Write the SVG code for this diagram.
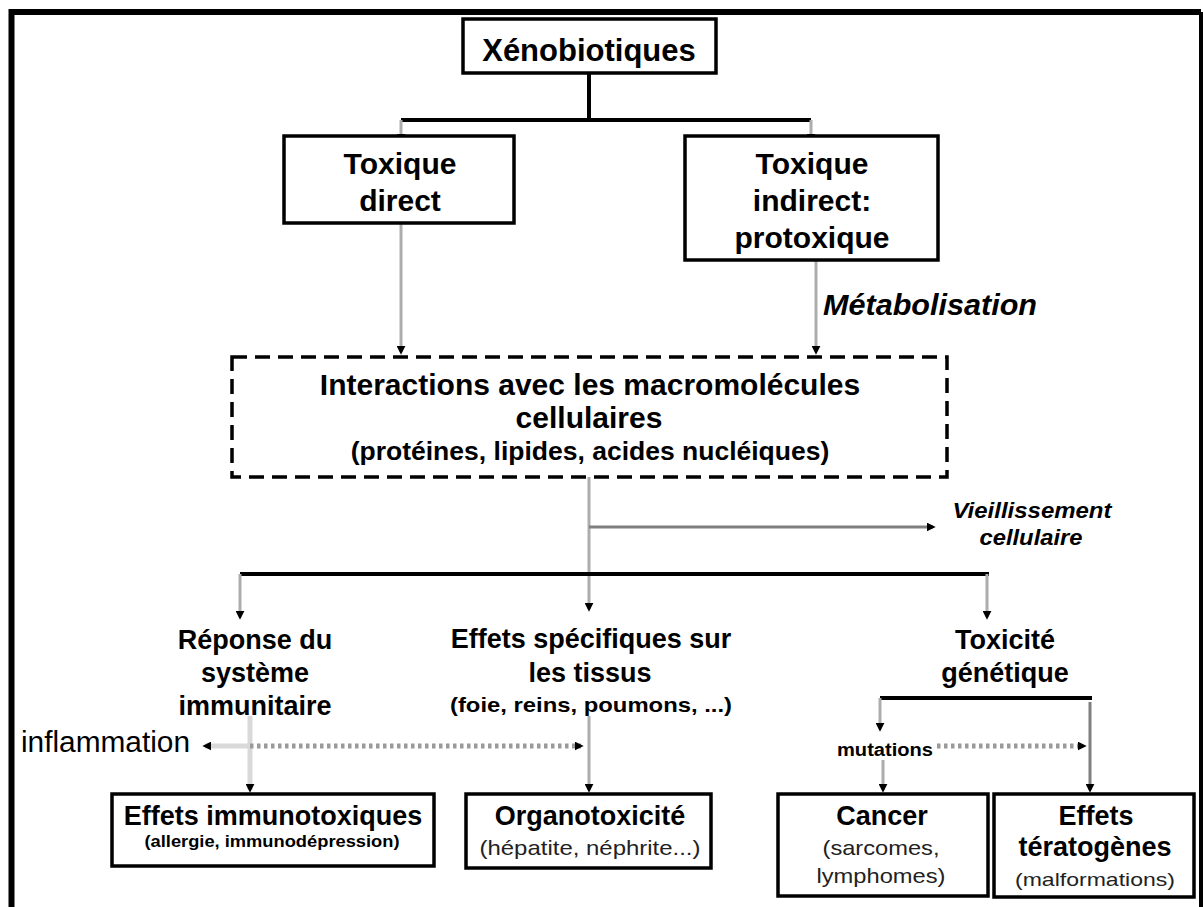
<svg xmlns="http://www.w3.org/2000/svg" width="1203" height="907" viewBox="0 0 1203 907">
<style>
.t{font-family:"Liberation Sans",Arial,sans-serif;font-weight:bold;fill:#000;text-anchor:middle}
.s{font-family:"Liberation Sans",Arial,sans-serif;text-anchor:middle}
.box{fill:#fff;stroke:#000;stroke-width:3.5}
.bar{fill:none;stroke:#000;stroke-width:4}
.c{fill:none;stroke:#adadad;stroke-width:3}
.cd{fill:none;stroke:#7f7f7f;stroke-width:3}
.cl{fill:none;stroke:#d9d9d9;stroke-width:5}
.dot{fill:none;stroke:#9a9a9a;stroke-width:5;stroke-dasharray:3.5 3.5}
</style>
<defs>
<marker id="ah" viewBox="0 0 10 10" refX="7" refY="5" markerWidth="9" markerHeight="9" markerUnits="userSpaceOnUse" orient="auto">
<path d="M0,0 L10,5 L0,10 z" fill="#000"/>
</marker>
</defs>
<rect width="1203" height="907" fill="#fff"/>
<g id="frame">
<path d="M11.5,907 V12 H1201" fill="none" stroke="#000" stroke-width="6"/>
<path d="M1201,12 V907" fill="none" stroke="#000" stroke-width="4"/>
</g>
<g id="connectors">
<path class="bar" d="M589,73 V120 M401,120 H811"/>
<path class="c" d="M401,120 V140" marker-end="url(#ah)"/>
<path class="c" d="M811,120 V140" marker-end="url(#ah)"/>
<path class="c" d="M401,223 V352" marker-end="url(#ah)"/>
<path class="c" d="M816,260 V352" marker-end="url(#ah)"/>
<path class="c" d="M589,477 V609" marker-end="url(#ah)"/>
<path class="cd" d="M589,527 H933" marker-end="url(#ah)"/>
<path class="bar" d="M240,574 H989"/>
<path class="c" d="M240,574 V617" marker-end="url(#ah)"/>
<path class="c" d="M987,574 V617" marker-end="url(#ah)"/>
<path class="cl" d="M250,716 V790" marker-end="url(#ah)"/>
<path class="c" d="M589,716 V790" marker-end="url(#ah)"/>
<path class="cl" d="M250,746 H205" marker-end="url(#ah)"/>
<path class="dot" d="M250,746 H581" marker-end="url(#ah)"/>
<path class="bar" d="M880,698 H1092"/>
<path class="c" d="M880,698 V729" marker-end="url(#ah)"/>
<path class="c" d="M883,760 V790" marker-end="url(#ah)"/>
<path class="cd" d="M1090,702 V790" marker-end="url(#ah)"/>
<path class="dot" d="M937,746 H1084" marker-end="url(#ah)"/>
</g>
<g id="xenobiotiques">
<rect class="box" x="463" y="19" width="253" height="54"/>
<text class="t" x="589" y="61" font-size="31">Xénobiotiques</text>
</g>
<g id="toxique-direct">
<rect class="box" x="284" y="136" width="230" height="87"/>
<text class="t" x="400" y="174" font-size="30">Toxique</text>
<text class="t" x="400" y="211" font-size="30">direct</text>
</g>
<g id="toxique-indirect">
<rect class="box" x="685" y="136" width="253" height="124"/>
<text class="t" x="812" y="174" font-size="30">Toxique</text>
<text class="t" x="812" y="211" font-size="30">indirect:</text>
<text class="t" x="812" y="248" font-size="30">protoxique</text>
</g>
<g id="metabolisation">
<text x="823" y="315" font-family="Liberation Sans, Arial, sans-serif" font-weight="bold" font-style="italic" font-size="29" textLength="214" lengthAdjust="spacingAndGlyphs">Métabolisation</text>
</g>
<g id="interactions">
<rect x="232" y="357" width="715" height="120" fill="#fff" stroke="#000" stroke-width="3.5" stroke-dasharray="15 8"/>
<text class="t" x="590" y="395" font-size="30">Interactions avec les macromolécules</text>
<text class="t" x="589" y="428" font-size="30">cellulaires</text>
<text class="t" x="590" y="460" font-size="26.5">(protéines, lipides, acides nucléiques)</text>
</g>
<g id="vieillissement">
<text class="t" x="1032" y="518" font-size="22" font-style="italic" fill="#2a2a40" textLength="159" lengthAdjust="spacingAndGlyphs">Vieillissement</text>
<text class="t" x="1031" y="545" font-size="22" font-style="italic" fill="#2a2a40" textLength="103" lengthAdjust="spacingAndGlyphs">cellulaire</text>
</g>
<g id="reponse-immunitaire">
<text class="t" x="255" y="649" font-size="27">Réponse du</text>
<text class="t" x="255" y="682" font-size="27">système</text>
<text class="t" x="255" y="715" font-size="27">immunitaire</text>
</g>
<g id="effets-specifiques">
<text class="t" x="591" y="648" font-size="27">Effets spécifiques sur</text>
<text class="t" x="590" y="682" font-size="27">les tissus</text>
<text class="t" x="591" y="712" font-size="21" textLength="282" lengthAdjust="spacingAndGlyphs">(foie, reins, poumons, ...)</text>
</g>
<g id="toxicite-genetique">
<text class="t" x="1005" y="649" font-size="27">Toxicité</text>
<text class="t" x="1005" y="682" font-size="27">génétique</text>
</g>
<g id="inflammation">
<text x="21" y="752" font-family="Liberation Sans, Arial, sans-serif" font-size="29" textLength="169" lengthAdjust="spacingAndGlyphs">inflammation</text>
</g>
<g id="mutations">
<text class="t" x="885" y="756" font-size="18" fill="#333" textLength="96" lengthAdjust="spacingAndGlyphs">mutations</text>
</g>
<g id="effets-immunotoxiques">
<rect class="box" x="112" y="794" width="322" height="72"/>
<text class="t" x="273" y="825" font-size="27">Effets immunotoxiques</text>
<text class="t" x="272" y="847" font-size="16" fill="#6a6a6a" textLength="255" lengthAdjust="spacingAndGlyphs">(allergie, immunodépression)</text>
</g>
<g id="organotoxicite">
<rect class="box" x="466" y="794" width="245" height="74"/>
<text class="t" x="590" y="825" font-size="27">Organotoxicité</text>
<text class="s" x="590" y="855" font-size="21" fill="#222" textLength="221" lengthAdjust="spacingAndGlyphs">(hépatite, néphrite...)</text>
</g>
<g id="cancer">
<rect class="box" x="778" y="794" width="210" height="102"/>
<text class="t" x="882" y="825" font-size="27">Cancer</text>
<text class="s" x="881" y="855" font-size="21" fill="#222" textLength="117" lengthAdjust="spacingAndGlyphs">(sarcomes,</text>
<text class="s" x="881" y="883" font-size="21" fill="#222" textLength="129" lengthAdjust="spacingAndGlyphs">lymphomes)</text>
</g>
<g id="effets-teratogenes">
<rect class="box" x="994" y="794" width="200" height="103"/>
<text class="t" x="1096" y="825" font-size="27">Effets</text>
<text class="t" x="1095" y="856" font-size="27">tératogènes</text>
<text class="s" x="1095" y="886" font-size="19" fill="#222" textLength="160" lengthAdjust="spacingAndGlyphs">(malformations)</text>
</g>
</svg>
